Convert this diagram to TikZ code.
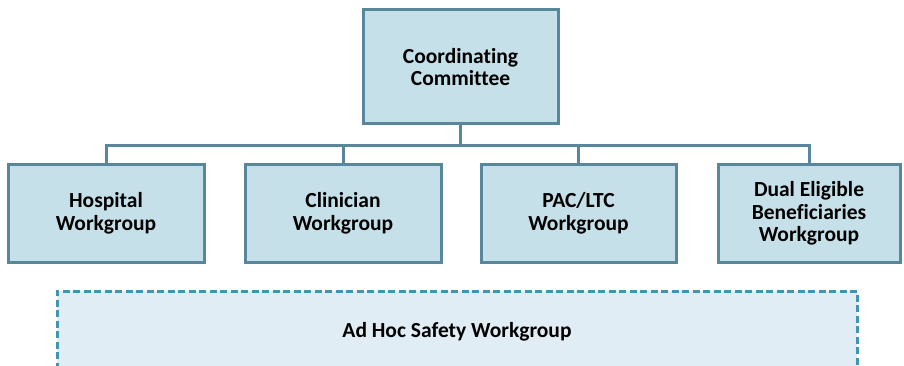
\documentclass[tikz,border=0pt]{standalone}
\usepackage{fontspec}
\setmainfont{Carlito}[Ligatures=NoCommon]
\usepackage{tikz}

\definecolor{boxfill}{RGB}{197,224,232}
\definecolor{boxline}{RGB}{88,134,154}
\definecolor{adhocfill}{RGB}{224,237,244}
\definecolor{adhocline}{RGB}{64,150,176}

\begin{document}
\begin{tikzpicture}[x=1pt,y=-1pt,
	group/.style={shape=rectangle,draw=boxline,fill=boxfill,line width=3pt,
		minimum height=97pt,align=center,font=\fontsize{21.5}{22.5}\selectfont\bfseries},
	link/.style={draw=boxline,line width=3pt},
	adhoc/.style={shape=rectangle,draw=adhocline,fill=adhocfill,line width=3pt,
		dash pattern=on 7pt off 3.5pt,minimum width=800pt,minimum height=82pt,
		font=\fontsize{21.5}{22.5}\selectfont\bfseries}]
	\useasboundingbox (0,0) rectangle (904,366);
	\clip (0,0) rectangle (904,366);

	\node[group,minimum width=195pt,minimum height=114pt] (cc) at (460.5, 67)     {Coordinating\\Committee};
	\node[group,minimum width=196pt] (hosp) at (106, 213.5)     {Hospital\\Workgroup};
	\node[group,minimum width=196pt] (clin) at (343, 213.5)     {Clinician\\Workgroup};
	\node[group,minimum width=195pt] (pac) at (578.5, 213.5)     {PAC/LTC\\Workgroup};
	\node[group,minimum width=182pt] (dual) at (809, 213.5)     {Dual Eligible\\Beneficiaries\\Workgroup};

	\node[adhoc] (adhoc) at (457, 332)     {Ad Hoc Safety Workgroup};

	\path[link] (cc.south) -- ++(0,20) -| (hosp.north);
	\path[link] (cc.south) -- ++(0,20) -| (clin.north);
	\path[link] (cc.south) -- ++(0,20) -| (pac.north);
	\path[link] (cc.south) -- ++(0,20) -| (dual.north);

\end{tikzpicture}
\end{document}
